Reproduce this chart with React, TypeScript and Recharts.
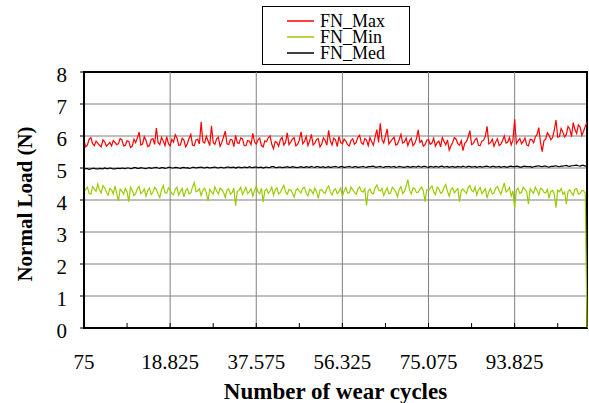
import {
  CartesianGrid,
  Legend,
  Line,
  LineChart,
  ReferenceArea,
  ReferenceLine,
  XAxis,
  YAxis
} from 'recharts';

// wear cycles, sampled every 375 cycles
const CYCLES = [
  75, 450, 825, 1200, 1575, 1950, 2325, 2700, 3075, 3450, 3825, 4200, 4575, 4950, 5325, 5700, 6075, 6450, 6825, 7200,
  7575, 7950, 8325, 8700, 9075, 9450, 9825, 10200, 10575, 10950, 11325, 11700, 12075, 12450, 12825, 13200, 13575, 13950, 14325, 14700,
  15075, 15450, 15825, 16200, 16575, 16950, 17325, 17700, 18075, 18450, 18825, 19200, 19575, 19950, 20325, 20700, 21075, 21450, 21825, 22200,
  22575, 22950, 23325, 23700, 24075, 24450, 24825, 25200, 25575, 25950, 26325, 26700, 27075, 27450, 27825, 28200, 28575, 28950, 29325, 29700,
  30075, 30450, 30825, 31200, 31575, 31950, 32325, 32700, 33075, 33450, 33825, 34200, 34575, 34950, 35325, 35700, 36075, 36450, 36825, 37200,
  37575, 37950, 38325, 38700, 39075, 39450, 39825, 40200, 40575, 40950, 41325, 41700, 42075, 42450, 42825, 43200, 43575, 43950, 44325, 44700,
  45075, 45450, 45825, 46200, 46575, 46950, 47325, 47700, 48075, 48450, 48825, 49200, 49575, 49950, 50325, 50700, 51075, 51450, 51825, 52200,
  52575, 52950, 53325, 53700, 54075, 54450, 54825, 55200, 55575, 55950, 56325, 56700, 57075, 57450, 57825, 58200, 58575, 58950, 59325, 59700,
  60075, 60450, 60825, 61200, 61575, 61950, 62325, 62700, 63075, 63450, 63825, 64200, 64575, 64950, 65325, 65700, 66075, 66450, 66825, 67200,
  67575, 67950, 68325, 68700, 69075, 69450, 69825, 70200, 70575, 70950, 71325, 71700, 72075, 72450, 72825, 73200, 73575, 73950, 74325, 74700,
  75075, 75450, 75825, 76200, 76575, 76950, 77325, 77700, 78075, 78450, 78825, 79200, 79575, 79950, 80325, 80700, 81075, 81450, 81825, 82200,
  82575, 82950, 83325, 83700, 84075, 84450, 84825, 85200, 85575, 85950, 86325, 86700, 87075, 87450, 87825, 88200, 88575, 88950, 89325, 89700,
  90075, 90450, 90825, 91200, 91575, 91950, 92325, 92700, 93075, 93450, 93825, 94200, 94575, 94950, 95325, 95700, 96075, 96450, 96825, 97200,
  97575, 97950, 98325, 98700, 99075, 99450, 99825, 100200, 100575, 100950, 101325, 101700, 102075, 102450, 102825, 103200, 103575, 103950, 104325, 104700,
  105075, 105450, 105825, 106200, 106575, 106950, 107325, 107700, 108075, 108450, 108825, 109200, 109575
];

const FN_MAX = [
  5.85, 5.66, 5.72, 5.9, 5.95, 5.76, 5.7, 5.84, 5.78, 5.71, 5.66, 5.88, 5.82, 5.68, 5.74, 5.8, 5.69, 5.86, 5.8, 5.73,
  5.76, 5.92, 5.88, 5.69, 5.71, 5.85, 5.83, 5.64, 5.68, 5.9, 5.79, 5.95, 6.12, 5.72, 5.75, 5.98, 5.86, 5.67, 5.7, 5.89,
  5.92, 5.74, 6.25, 5.8, 5.73, 5.96, 5.84, 5.7, 5.98, 5.76, 5.69, 5.9, 5.81, 6.04, 5.94, 5.71, 5.72, 5.93, 5.87, 5.66,
  5.76, 5.93, 6.05, 5.72, 5.7, 5.88, 5.9, 5.75, 6.44, 5.82, 5.78, 5.99, 5.85, 5.7, 6.32, 5.8, 5.74, 5.91, 5.96, 5.68,
  5.8, 5.97, 6.15, 5.76, 5.73, 5.9, 5.88, 5.67, 6.02, 5.79, 5.77, 5.94, 5.91, 5.7, 5.69, 5.86, 5.84, 5.73, 6.08, 5.82,
  5.75, 5.88, 5.93, 5.7, 5.66, 5.85, 5.82, 5.95, 6.0, 5.74, 5.6, 5.83, 5.79, 5.68, 5.89, 5.96, 5.72, 5.8, 6.1, 5.73,
  5.81, 5.9, 5.95, 5.69, 5.74, 5.87, 6.13, 5.76, 5.83, 5.98, 5.7, 5.85, 6.05, 5.72, 5.78, 5.89, 5.92, 5.66, 5.75, 5.94,
  5.86, 5.71, 6.18, 5.84, 5.72, 5.93, 5.88, 5.67, 5.98, 5.8, 5.76, 5.9, 5.84, 5.73, 5.69, 5.86, 5.91, 5.74, 5.8, 5.96,
  6.02, 5.79, 5.74, 5.92, 5.87, 5.7, 5.95, 5.82, 5.71, 5.97, 6.2, 5.8, 6.4, 5.88, 5.78, 6.0, 6.22, 5.75, 5.83, 5.9,
  5.96, 5.72, 5.75, 5.89, 6.05, 5.78, 5.81, 5.94, 5.7, 5.85, 5.93, 5.7, 5.77, 5.91, 6.19, 5.8, 5.86, 5.68, 5.73, 5.87,
  5.89, 5.74, 5.78, 5.93, 5.68, 5.79, 5.84, 5.66, 5.95, 5.83, 5.72, 5.88, 5.56, 5.69, 5.8, 5.95, 5.9, 5.76, 5.71, 5.85,
  5.54, 5.77, 5.82, 5.96, 6.17, 5.73, 5.76, 5.88, 5.93, 5.71, 5.7, 5.84, 5.87, 5.99, 6.3, 5.75, 5.79, 5.9, 5.68, 5.81,
  5.91, 5.7, 5.74, 5.86, 6.0, 5.78, 5.81, 5.95, 5.72, 5.87, 6.52, 5.76, 5.85, 5.92, 5.76, 5.83, 5.94, 5.72, 5.69, 5.9,
  5.88, 5.79, 5.97, 6.05, 6.26, 5.8, 5.51, 5.85, 5.9, 6.1, 6.02, 5.88, 5.95, 6.18, 6.5, 5.96, 5.98, 6.24, 6.12, 5.97,
  6.05, 6.3, 6.22, 5.98, 6.42, 6.2, 6.08, 6.35, 6.28, 6.02, 6.15, 6.3, 6.44
];

const FN_MIN = [
  4.25, 4.33, 4.4, 4.2, 4.18, 4.42, 4.35, 4.27, 4.5, 4.31, 4.22, 4.45, 4.38, 4.24, 4.15, 4.36, 4.32, 4.19, 4.44, 4.21,
  3.97, 4.34, 4.28, 4.18, 4.36, 4.25, 3.95, 4.4, 4.3, 4.14, 4.2, 4.36, 4.42, 4.2, 4.26, 4.35, 4.12, 4.3, 4.38, 4.17,
  4.24, 4.39, 4.33, 4.19, 4.08, 4.32, 4.45, 4.23, 4.21, 4.38, 4.31, 4.2, 4.16, 4.34, 4.4, 4.15, 4.27, 4.36, 4.1, 4.29,
  4.36, 4.2, 4.22, 4.4, 4.54, 4.26, 4.29, 4.35, 4.14, 4.3, 4.37, 4.22, 3.97, 4.33, 4.25, 4.18, 4.41, 4.28, 4.19, 4.37,
  4.32, 4.24, 4.08, 4.31, 4.35, 4.18, 4.23, 4.37, 3.82, 4.27, 4.3, 4.4, 4.17, 4.28, 4.39, 4.2, 4.26, 4.35, 4.12, 4.3,
  4.43, 4.26, 4.2, 4.37, 3.94, 4.29, 4.34, 4.21, 4.28, 4.4, 4.15, 4.32, 4.38, 4.19, 4.24, 4.36, 4.46, 4.25, 4.18, 4.33,
  4.31, 4.22, 4.09, 4.3, 4.36, 4.27, 4.22, 4.38, 4.4, 4.21, 4.13, 4.34, 4.29, 4.19, 4.37, 4.26, 4.05, 4.31, 4.33, 4.24,
  4.21, 4.36, 4.44, 4.25, 4.16, 4.3, 4.35, 4.2, 4.26, 4.37, 4.11, 4.28, 4.39, 4.22, 4.23, 4.4, 4.32, 4.24, 4.18, 4.34,
  4.41, 4.27, 4.25, 4.35, 3.83, 4.29, 4.34, 4.22, 4.2, 4.38, 4.47, 4.31, 4.28, 4.36, 4.14, 4.27, 4.38, 4.2, 4.22, 4.4,
  4.33, 4.25, 4.1, 4.33, 4.42, 4.2, 4.27, 4.43, 4.64, 4.3, 4.19, 4.38, 4.36, 4.23, 4.24, 4.34, 4.4, 4.28, 3.95, 4.32,
  4.3, 4.37, 4.44, 4.26, 4.17, 4.4, 4.35, 4.21, 4.25, 4.39, 4.48, 4.27, 4.12, 4.33, 4.38, 4.22, 4.29, 4.36, 3.95, 4.3,
  4.34, 4.27, 4.21, 4.38, 4.45, 4.3, 4.26, 4.41, 4.15, 4.32, 4.39, 4.2, 4.28, 4.35, 4.06, 4.26, 4.36, 4.19, 4.22, 4.37,
  4.42, 4.29, 4.18, 4.36, 4.53, 4.25, 4.3, 4.39, 4.12, 4.28, 3.74, 4.31, 4.37, 4.2, 4.24, 4.4, 4.33, 4.26, 3.87, 4.35,
  4.28, 4.21, 4.4, 4.3, 4.16, 4.37, 4.34, 4.24, 4.22, 4.33, 4.05, 4.27, 4.3, 4.19, 3.76, 4.31, 4.26, 4.36, 4.18, 4.25,
  3.88, 4.27, 4.32, 4.22, 4.15, 4.34, 4.36, 4.18, 4.2, 4.3, 4.29, 4.21, 0
];

const FN_MED = [
  4.96, 4.98, 4.98, 4.96, 4.97, 4.99, 4.99, 4.97, 4.97, 4.99, 4.98, 4.97, 5.0, 4.98, 4.98, 5.0, 4.99, 4.97, 4.97, 4.99,
  4.99, 4.98, 5.0, 4.99, 4.98, 5.0, 5.0, 4.98, 4.99, 5.01, 5.01, 4.99, 4.99, 5.01, 5.0, 4.99, 4.98, 5.0, 5.01, 4.99,
  5.0, 5.01, 5.02, 5.0, 4.99, 5.01, 5.01, 4.99, 5.0, 5.02, 5.02, 5.0, 5.0, 5.02, 5.01, 5.0, 4.99, 5.01, 5.02, 5.0,
  5.01, 4.99, 5.0, 5.02, 5.02, 5.0, 5.01, 5.02, 5.03, 5.01, 5.0, 5.02, 5.02, 5.0, 5.01, 5.02, 5.03, 5.01, 5.0, 5.02,
  5.02, 5.0, 5.01, 5.03, 5.03, 5.01, 5.02, 5.03, 5.0, 5.02, 5.03, 5.01, 5.01, 5.03, 5.02, 5.01, 5.04, 5.02, 5.01, 5.03,
  5.03, 5.01, 5.02, 5.03, 5.0, 5.02, 5.03, 5.01, 5.02, 5.04, 5.04, 5.02, 5.01, 5.03, 5.03, 5.01, 5.02, 5.03, 5.04, 5.02,
  5.02, 5.04, 5.03, 5.02, 5.01, 5.03, 5.04, 5.02, 5.02, 5.04, 5.03, 5.02, 5.05, 5.03, 5.02, 5.04, 5.04, 5.02, 5.03, 5.04,
  5.01, 5.03, 5.04, 5.02, 5.03, 5.04, 5.05, 5.03, 5.02, 5.04, 5.04, 5.02, 5.03, 5.04, 5.05, 5.03, 5.02, 5.04, 5.04, 5.02,
  5.03, 5.04, 5.05, 5.03, 5.02, 5.04, 5.04, 5.05, 5.06, 5.03, 5.03, 5.04, 5.05, 5.03, 5.02, 5.04, 5.04, 5.05, 5.03, 5.04,
  5.05, 5.02, 5.03, 5.05, 5.04, 5.03, 5.02, 5.04, 5.05, 5.03, 5.03, 5.05, 5.04, 5.03, 5.06, 5.04, 5.03, 5.05, 5.05, 5.03,
  5.02, 5.05, 5.04, 5.03, 5.05, 5.04, 5.03, 5.05, 5.06, 5.03, 5.04, 5.05, 5.02, 5.04, 5.05, 5.03, 5.03, 5.05, 5.04, 5.03,
  5.06, 5.04, 5.03, 5.05, 5.05, 5.03, 5.04, 5.05, 5.02, 5.04, 5.05, 5.03, 5.04, 5.05, 5.06, 5.04, 5.03, 5.05, 5.05, 5.03,
  5.04, 5.05, 5.02, 5.04, 5.05, 5.03, 5.03, 5.05, 5.06, 5.04, 5.04, 5.06, 5.05, 5.03, 5.03, 5.05, 5.06, 5.04, 5.04, 5.05,
  5.02, 5.04, 5.05, 5.06, 5.07, 5.05, 5.04, 5.06, 5.06, 5.04, 5.03, 5.05, 5.05, 5.06, 5.07, 5.05, 5.04, 5.06, 5.06, 5.07,
  5.08, 5.06, 5.05, 5.07, 5.07, 5.08, 5.09, 5.07, 5.06, 5.08, 5.08, 5.06, 5.07
];

const MAJOR_TICKS = [75, 18825, 37575, 56325, 75075, 93825];
const MINOR_TICKS = [9450, 28200, 46950, 65700, 84450, 103200];
const LOAD_TICKS = [0, 1, 2, 3, 4, 5, 6, 7, 8];

const SERIES = [
  { key: 'max', name: 'FN_Max', color: '#ff0000' },
  { key: 'min', name: 'FN_Min', color: '#99cc00' },
  { key: 'med', name: 'FN_Med', color: '#000000' }
];

const FONT = "'Liberation Serif', 'Times New Roman', serif";
const GRID = '#808080';

const data = CYCLES.map((cycle, i) => ({
  cycle,
  max: FN_MAX[i],
  min: FN_MIN[i],
  med: FN_MED[i]
}));

// Excel-style thousands separator: 18825 -> "18.825"
const formatCycles = (v: number): string =>
  v < 1000 ? String(v) : `${Math.floor(v / 1000)}.${String(v % 1000).padStart(3, '0')}`;

const CycleTick = (props: any) => {
  const { x, y, payload } = props;
  const major = MAJOR_TICKS.includes(payload.value);
  return (
    <g>
      <line x1={x} y1={y} x2={x} y2={y - 5} stroke="#000" strokeWidth={1} />
      {major && (
        <text x={x} y={y + 41} textAnchor="middle" style={{ fontFamily: FONT, fontSize: 21 }} fill="#000">
          {formatCycles(payload.value)}
        </text>
      )}
    </g>
  );
};

const LoadTick = (props: any) => {
  const { x, y, payload } = props;
  return (
    <text x={x} y={y + 10} textAnchor="end" style={{ fontFamily: FONT, fontSize: 21 }} fill="#000">
      {payload.value}
    </text>
  );
};

const LegendBox = () => (
  <div
    style={{
      border: '1px solid #000',
      background: '#fff',
      width: 148,
      height: 59,
      boxSizing: 'border-box',
      paddingTop: 6,
      fontFamily: FONT,
      fontSize: 18
    }}
  >
    {SERIES.map((s) => (
      <div key={s.key} style={{ display: 'flex', alignItems: 'center', height: 16, lineHeight: '16px' }}>
        <svg width={52} height={16} style={{ flex: 'none' }}>
          <line x1={24} y1={8} x2={51} y2={8} stroke={s.color} strokeWidth={1.5} />
        </svg>
        <span style={{ marginLeft: 5, color: '#000' }}>{s.name}</span>
      </div>
    ))}
  </div>
);

export default function App() {
  return (
    <div
      style={{
        position: 'absolute',
        left: 0,
        top: 0,
        width: 589,
        height: 403,
        background: '#fff',
        fontFamily: FONT
      }}
    >
      <LineChart width={589} height={403} data={data} margin={{ top: 72, right: 2, bottom: 0, left: 0 }}>
        <CartesianGrid vertical={false} stroke={GRID} strokeWidth={1} />
        {MAJOR_TICKS.slice(1).map((t) => (
          <ReferenceLine key={t} x={t} stroke={GRID} strokeWidth={1} />
        ))}
        <XAxis
          dataKey="cycle"
          type="number"
          domain={[75, 109575]}
          ticks={[...MAJOR_TICKS, ...MINOR_TICKS].sort((a, b) => a - b)}
          interval={0}
          height={75}
          tickSize={0}
          tickMargin={0}
          tickLine={false}
          tick={<CycleTick />}
          axisLine={{ stroke: '#000', strokeWidth: 2 }}
          label={{
            content: (p: any) => {
              const vb = p.viewBox;
              return (
                <text
                  x={vb.x + vb.width / 2}
                  y={vb.y + 71}
                  textAnchor="middle"
                  style={{ fontFamily: FONT, fontSize: 23, fontWeight: 'bold' }}
                  fill="#000"
                >
                  Number of wear cycles
                </text>
              );
            }
          }}
        />
        <YAxis
          type="number"
          domain={[0, 8]}
          ticks={LOAD_TICKS}
          interval={0}
          width={84}
          tickSize={4}
          tickMargin={13}
          tickLine={{ stroke: '#000' }}
          axisLine={{ stroke: '#000', strokeWidth: 2 }}
          tick={<LoadTick />}
          label={{
            content: (p: any) => {
              const vb = p.viewBox;
              const cx = vb.x + 25;
              const cy = vb.y + vb.height / 2 + 4;
              return (
                <text
                  x={cx}
                  y={cy}
                  transform={`rotate(-90 ${cx} ${cy})`}
                  textAnchor="middle"
                  dominantBaseline="central"
                  style={{ fontFamily: FONT, fontSize: 21, fontWeight: 'bold' }}
                  fill="#000"
                >
                  Normal Load (N)
                </text>
              );
            }
          }}
        />
        <ReferenceArea
          x1={75}
          x2={109575}
          y1={0}
          y2={8}
          fill="none"
          stroke="#000"
          strokeWidth={2}
          ifOverflow="visible"
        />
        <Legend
          layout="vertical"
          align="center"
          verticalAlign="middle"
          wrapperStyle={{ top: 6, left: 262, width: 148 }}
          content={<LegendBox />}
        />
        {SERIES.map((s) => (
          <Line
            key={s.key}
            type="linear"
            dataKey={s.key}
            name={s.name}
            stroke={s.color}
            strokeWidth={1.2}
            dot={false}
            activeDot={false}
            isAnimationActive={false}
          />
        ))}
      </LineChart>
    </div>
  );
}
